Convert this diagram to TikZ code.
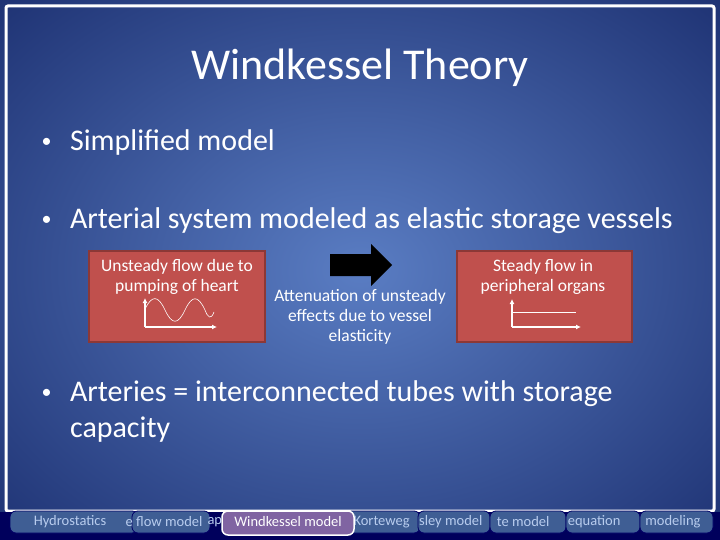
\documentclass[tikz,border=0pt]{standalone}
\usepackage{fontspec}
\setmainfont{Carlito}
\usetikzlibrary{arrows.meta}
\definecolor{boxred}{HTML}{C0504D}
\definecolor{boxedge}{HTML}{8C3836}
\definecolor{tabblue}{HTML}{3F5E94}
\definecolor{tabtext}{HTML}{B8CCEE}
\definecolor{tabsel}{HTML}{8064A2}
\tikzset{
 redbox/.style={draw=boxedge,line width=2pt,fill=boxred},
 boxtxt/.style={text=white,font=\fontsize{17.5}{20}\selectfont,align=center},
 bullet/.style={text=white,font=\fontsize{30}{36}\selectfont,anchor=north west,align=left},
 tab/.style={fill=tabblue,draw=black!60!blue,rounded corners=6pt,line width=0.8pt},
 tabt/.style={text=tabtext,font=\fontsize{14.5}{15}\selectfont},
 axis/.style={white,line width=1.2pt,-{Latex[length=5pt,width=5pt]}}
}
\begin{document}
\begin{tikzpicture}[x=1pt,y=-1pt]
\useasboundingbox (0,0) rectangle (720,540);
\shade[inner color={rgb,255:red,90;green,125;blue,195},outer color={rgb,255:red,30;green,50;blue,115}] (-150,-120) rectangle (870,660);
\draw[white,line width=3pt,rounded corners=2pt] (6,6) rectangle (714,511);
\node[text=white,font=\fontsize{44}{48}\selectfont] (title) at (360,68) {Windkessel Theory};
\newcommand{\bl}{\raisebox{3pt}{\fontsize{20}{20}\selectfont•}\ \ \,}
\node[bullet] (b1) at (38,126) {\bl Simplified model};
\node[bullet] (b2) at (38,204) {\bl Arterial system modeled as elastic storage vessels};
\node[bullet] (b3) at (38,377) {\bl Arteries = interconnected tubes with storage\\\phantom{\bl}capacity};
% left box
\draw[redbox] (89,251) rectangle (265,342);
\node[boxtxt] (lt) at (177,277) {Unsteady flow due to\\pumping of heart};
\coordinate (lo) at (145,327);
\draw[axis] (lo) -- (145,298);
\draw[axis] (lo) -- (217,327);
\draw[white,line width=0.6pt] (145,309) .. controls (152,295) and (158,295) .. (165,310) .. controls (172,325) and (178,325) .. (185,310) .. controls (192,295) and (198,295) .. (205,310) .. controls (208,318) and (211,320) .. (214,312);
% right box
\draw[redbox] (457,251) rectangle (632,342);
\node[boxtxt] (rt) at (543,277) {Steady flow in\\peripheral organs};
\coordinate (ro) at (512,327);
\draw[axis] (ro) -- (512,299);
\draw[axis] (ro) -- (581,327);
\draw[white,line width=0.6pt] (512,312) -- (576,312);
% middle arrow
\fill[black] (330,254) -- (371,254) -- (371,244) -- (392,265) -- (371,286) -- (371,276) -- (330,276) -- cycle;
\node[boxtxt] (mt) at (360,317) {Attenuation of unsteady\\effects due to vessel\\elasticity};
% tabs
\fill[black!40!blue!60!black] (0,512) rectangle (720,540);
\draw[tab] (10,511) rectangle (138,533); \node[tabt] (t1) at (70,522) {Hydrostatics};
\draw[tab] (132,511) rectangle (210,533); \node[tabt,anchor=east] (t2) at (206,522) {e flow model};
\node[tabt,anchor=west] (t2b) at (204,522) {ap};
\draw[tab] (346,511) rectangle (420,533); \node[tabt,anchor=west] (t3) at (350,522) {Korteweg};
\draw[tab] (418,511) rectangle (490,533); \node[tabt,anchor=east] (t4) at (486,522) {sley model};
\draw[tab] (490,511) rectangle (566,533); \node[tabt,anchor=east] (t5) at (553,522) {te model};
\draw[tab] (566,511) rectangle (640,533); \node[tabt,anchor=east] (t6) at (624,522) {equation};
\draw[tab] (640,511) rectangle (713,533); \node[tabt,anchor=east] (t7) at (704,522) {modeling};
\draw[fill=tabsel,draw=white,line width=1.5pt,rounded corners=6pt] (222,511) rectangle (354,535);
\node[text=white,font=\fontsize{14.5}{15}\selectfont] (t8) at (288,522) {Windkessel model};
\end{tikzpicture}
\end{document}
